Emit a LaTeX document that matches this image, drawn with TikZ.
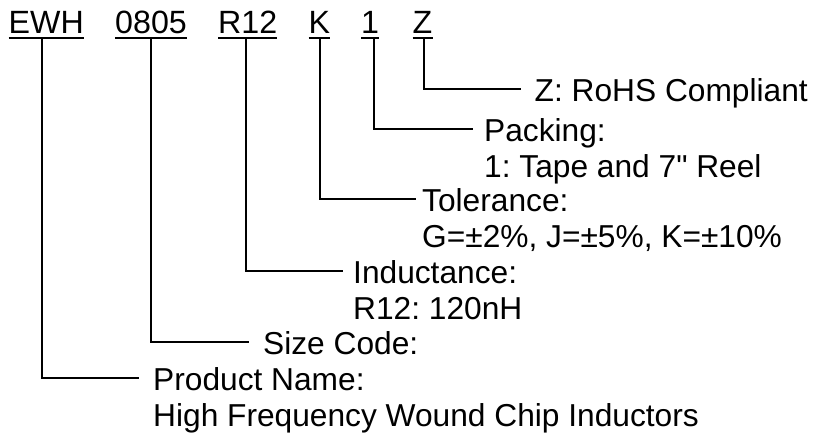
\documentclass[tikz,border=0pt]{standalone}
\usepackage{fontspec}
\setmainfont{Liberation Sans}[Ligatures=TeXOff]
\frenchspacing
\begin{document}
\begin{tikzpicture}[x=1pt,y=-1pt,
  txt/.style={inner sep=0pt,anchor=base west,font=\fontsize{31.7}{36}\selectfont},
  code/.style={txt,font=\fontsize{32.2}{36}\selectfont},
  lead/.style={line width=2pt,line cap=rect},
  uline/.style={line width=2.2pt}]
\useasboundingbox (0,0) rectangle (817,434);
% code letters
\node[code] (cE) at (8.5,33) {EWH};
\node[code] (cS) at (115,33) {0805};
\node[code] (cR) at (218,33) {R12};
\node[code] (cK) at (308.5,33) {K};
\node[code] (cP) at (361,33) {1};
\node[code] (cZ) at (412.5,33) {Z};
\foreach \n in {cE,cS,cR,cK,cP,cZ}
  \draw[uline] ([yshift=-5pt]\n.base west) -- ([yshift=-5pt]\n.base east);
% labels
\node[txt] (lZ) at (534.5,101.5) {Z: RoHS Compliant};
\node[txt] (lP) at (484,141.5) {Packing:};
\node[txt] (lP2) at (484,177.5) {1: Tape and 7" Reel};
\node[txt] (lK) at (422,211.5) {Tolerance:};
\node[txt] (lK2) at (422,247.5) {G=±2\%, J=±5\%, K=±10\%};
\node[txt] (lR) at (353,283.5) {Inductance:};
\node[txt] (lR2) at (353,319.5) {R12: 120nH};
\node[txt] (lS) at (263,354.5) {Size Code:};
\node[txt] (lE) at (153,390.5) {Product Name:};
\node[txt] (lE2) at (153,426.5) {High Frequency Wound Chip Inductors};
% connector ends
\coordinate (tZ) at (424,39);  \coordinate (eZ) at (520,89);
\coordinate (tP) at (374,39);  \coordinate (eP) at (472,129);
\coordinate (tK) at (320,39);  \coordinate (eK) at (415,199);
\coordinate (tR) at (246,39);  \coordinate (eR) at (342,271);
\coordinate (tS) at (151,39);  \coordinate (eS) at (248,342);
\coordinate (tE) at (42,39);   \coordinate (eE) at (138,378);
\foreach \a in {Z,P,K,R,S,E}
  \draw[lead] (t\a) |- (e\a);
\end{tikzpicture}
\end{document}
